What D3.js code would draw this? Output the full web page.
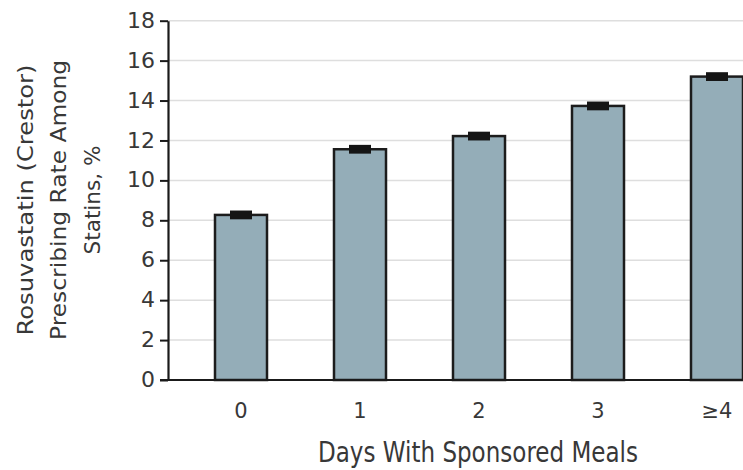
<!DOCTYPE html>
<html>
<head>
<meta charset="utf-8">
<script src="https://cdn.jsdelivr.net/npm/d3@7"></script>
<style>
  html, body { margin: 0; padding: 0; background: #fff; }
  svg { display: block; }
  text { font-family: 'DejaVu Sans', sans-serif; fill: #383838; }
</style>
</head>
<body>
<svg id="chart" width="743" height="470"></svg>
<script>
const categories = ["0", "1", "2", "3", "\u22654"];
const values = [8.27, 11.56, 12.22, 13.73, 15.2];
const errors = [0.22, 0.22, 0.22, 0.22, 0.22];
const yTicks = [0, 2, 4, 6, 8, 10, 12, 14, 16, 18];
const yTitleLines = ["Rosuvastatin (Crestor)", "Prescribing Rate Among", "Statins, %"];
const xTitle = "Days With Sponsored Meals";

const svg = d3.select("#chart");
const axisX = 168, baseY = 380, topY = 20.7;
const squeeze = 0.74; // horizontal compression of the lettering

const x = d3.scaleBand().domain(categories).range([181.5, 776.5]).paddingInner(0.563).paddingOuter(0.2815);
const y = d3.scaleLinear().domain([0, 18]).range([baseY, topY]);

// gridlines
svg.append("g").selectAll("line").data(yTicks.filter(d => d > 0)).join("line")
  .attr("x1", axisX).attr("x2", 743)
  .attr("y1", d => y(d)).attr("y2", d => y(d))
  .attr("stroke", "#dedede").attr("stroke-width", 1.5);

// y axis
const yAxis = d3.axisLeft(y).tickValues(yTicks).tickSize(8).tickPadding(5).tickSizeOuter(0);
const gy = svg.append("g").attr("transform", `translate(${axisX},0)`).call(yAxis).attr("font-family", null);
gy.select(".domain").attr("stroke", "#1a1a1a").attr("stroke-width", 2.2);
gy.selectAll(".tick line").attr("stroke", "#1a1a1a").attr("stroke-width", 2);
gy.selectAll(".tick text").style("font-size", "22px").attr("dy", "0.3em").attr("fill", "#383838");

// bars
svg.append("g").selectAll("rect").data(values).join("rect")
  .attr("x", (d, i) => x(categories[i]))
  .attr("y", d => y(d))
  .attr("width", x.bandwidth())
  .attr("height", d => baseY - y(d))
  .attr("fill", "#94adb8")
  .attr("stroke", "#1c1c1c").attr("stroke-width", 2.5);

// error bars
svg.append("g").selectAll("rect").data(values).join("rect")
  .attr("x", (d, i) => x(categories[i]) + x.bandwidth() / 2 - 11)
  .attr("y", (d, i) => y(d + errors[i]))
  .attr("width", 22)
  .attr("height", (d, i) => y(d - errors[i]) - y(d + errors[i]))
  .attr("fill", "#151515");

// x axis
const xAxis = d3.axisBottom(x).tickSize(0).tickPadding(0);
const gx = svg.append("g").attr("transform", `translate(0,${baseY})`).call(xAxis).attr("font-family", null);
gx.select(".domain").remove();
gx.selectAll(".tick text").style("font-size", "21px").attr("y", 38).attr("dy", null).attr("fill", "#383838");
svg.append("line").attr("x1", axisX - 8).attr("x2", 743).attr("y1", baseY).attr("y2", baseY)
  .attr("stroke", "#1a1a1a").attr("stroke-width", 2.2);

// x title
svg.append("text").attr("x", 478).attr("y", 462).attr("text-anchor", "middle")
  .style("font-size", "29px")
  .attr("textLength", 320).attr("lengthAdjust", "spacingAndGlyphs")
  .text(xTitle);

// y title (three rotated lines)
const titleBase = [33, 66, 100];
const titleLen = [271, 280, 109];
yTitleLines.forEach((t, i) => {
  svg.append("g").attr("transform", `translate(${titleBase[i]},200) scale(${squeeze},1) rotate(-90)`)
    .append("text").attr("x", 0).attr("y", 0).attr("text-anchor", "middle")
    .style("font-size", "29px")
    .attr("textLength", titleLen[i]).attr("lengthAdjust", "spacingAndGlyphs")
    .text(t);
});
</script>
</body>
</html>
